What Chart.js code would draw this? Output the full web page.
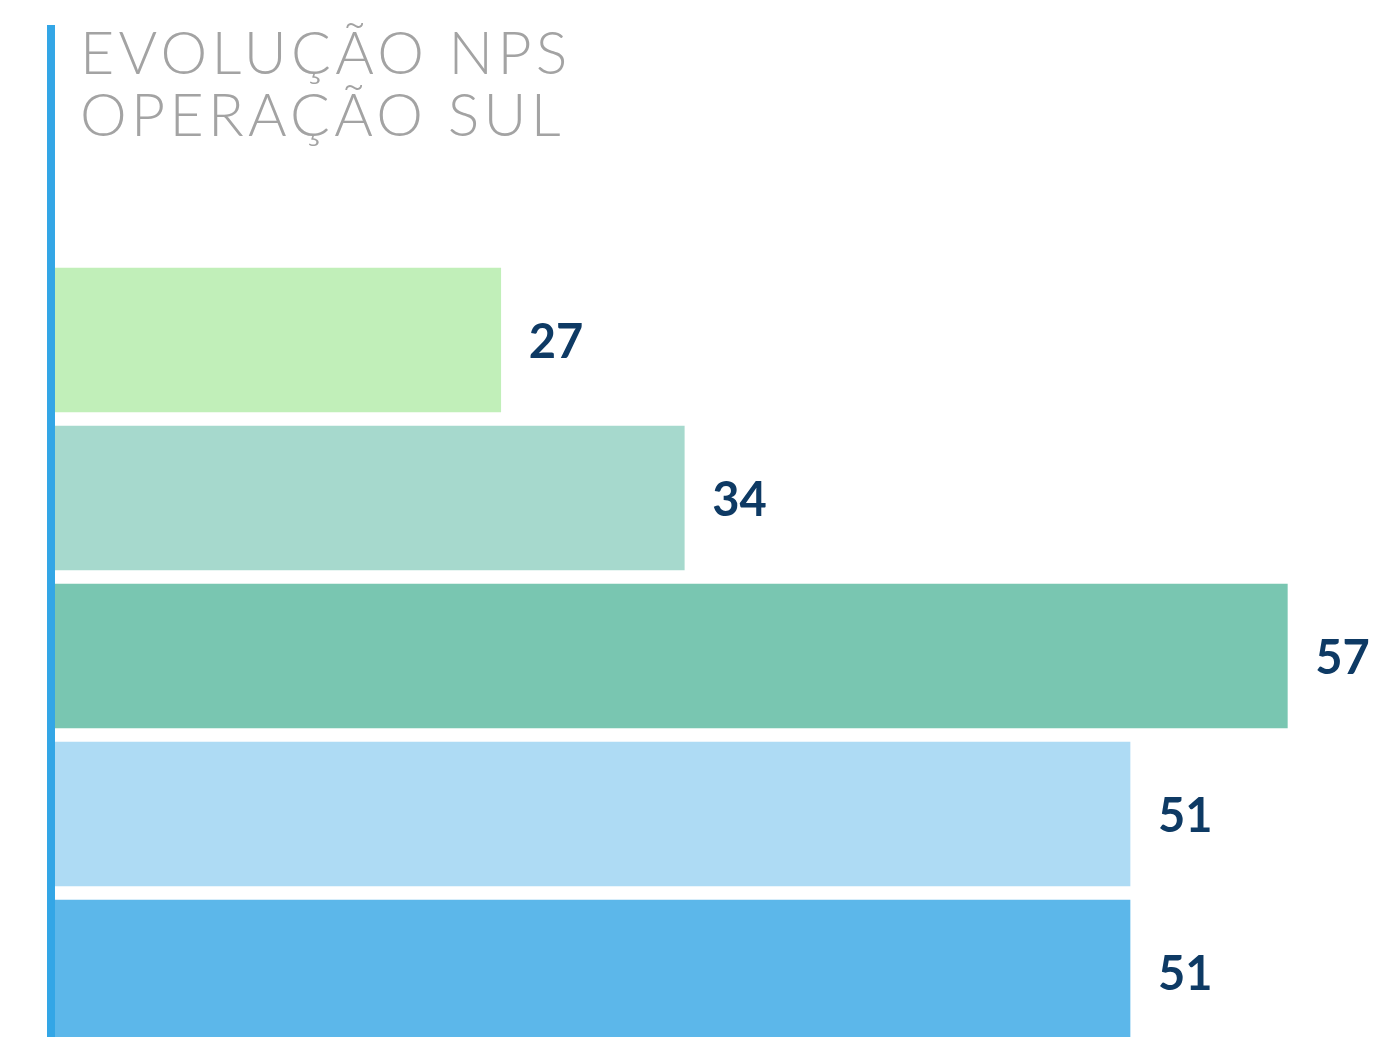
<!DOCTYPE html>
<html lang="pt-BR">
<head>
<meta charset="utf-8">
<title>Evolução NPS - Operação Sul</title>
<script src="https://cdn.jsdelivr.net/npm/chart.js@4.4.1/dist/chart.umd.min.js"></script>
<style>
  html, body { margin: 0; padding: 0; background: #fff; overflow: hidden; }
  .wrap { position: absolute; left: 0; top: 0; width: 1373px; height: 1051px; }
  .titulo {
    position: absolute; left: 80px; top: 21px;
    font-family: 'Lato', sans-serif; font-weight: 300;
    font-size: 59px; line-height: 62px; color: #a3a3a3;
    letter-spacing: 4.3px; margin: 0;
  }
</style>
</head>
<body>
<div class="wrap">
  <canvas id="npsChart"></canvas>
</div>
<div class="titulo">EVOLUÇÃO NPS<br>OPERAÇÃO SUL</div>

<script>
// períodos (um por barra, de cima para baixo)
const periodos = ['P1', 'P2', 'P3', 'P4', 'P5'];
const notasNps = [27, 34, 57, 51, 51];
const coresBarras = ['#c1efb9', '#a6d9cd', '#79c6b1', '#aedbf4', '#5cb7ea'];

const AZUL_LINHA = '#33a6e6';
const COR_ROTULO = '#0e3a64';

// linha vertical azul à esquerda, sobe até o título
const linhaLateral = {
  id: 'linhaLateral',
  afterDraw(chart) {
    const { ctx, chartArea } = chart;
    ctx.save();
    ctx.fillStyle = AZUL_LINHA;
    ctx.fillRect(chartArea.left - 8, 25, 8, chart.height - 25);
    ctx.restore();
  }
};

// número ao lado de cada barra
const rotulosValor = {
  id: 'rotulosValor',
  afterDatasetsDraw(chart) {
    const { ctx } = chart;
    const meta = chart.getDatasetMeta(0);
    ctx.save();
    ctx.font = 'bold 47px Lato, sans-serif';
    ctx.fillStyle = COR_ROTULO;
    ctx.textAlign = 'left';
    ctx.textBaseline = 'middle';
    meta.data.forEach((bar, i) => {
      ctx.fillText(String(notasNps[i]), bar.x + 28, bar.y + 3);
    });
    ctx.restore();
  }
};

new Chart(document.getElementById('npsChart'), {
  type: 'bar',
  data: {
    labels: periodos,
    datasets: [{
      data: notasNps,
      backgroundColor: coresBarras,
      borderWidth: 0,
      barThickness: 144
    }]
  },
  options: {
    indexAxis: 'y',
    responsive: true,
    maintainAspectRatio: false,
    animation: false,
    layout: { padding: { top: 261, left: 55, right: 7, bottom: 0 } },
    plugins: {
      legend: { display: false },
      tooltip: { enabled: false }
    },
    scales: {
      x: { display: false, min: 10, max: 60 },
      y: { display: false }
    }
  },
  plugins: [linhaLateral, rotulosValor]
});
</script>
</body>
</html>
